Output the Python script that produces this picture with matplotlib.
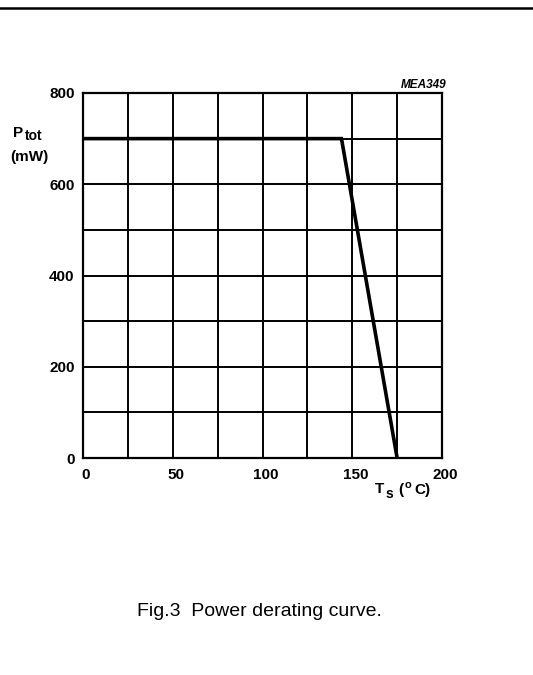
import matplotlib
matplotlib.use("Agg")
import matplotlib.pyplot as plt
import matplotlib.transforms as mtransforms

# derating curve points (Ts in degC, Ptot in mW)
temp = [0, 144, 175]
power = [700, 700, 0]

x_ticks = [0, 50, 100, 150, 200]
y_ticks = [0, 200, 400, 600, 800]
x_grid = [25, 50, 75, 100, 125, 150, 175]
y_grid = [100, 200, 300, 400, 500, 600, 700]

plt.rcParams['font.family'] = ['Liberation Sans', 'DejaVu Sans']

fig = plt.figure(figsize=(5.33, 6.75), dpi=100)
ax = fig.add_axes([83 / 533, 1 - 458 / 675, 359 / 533, 365 / 675])

for g in x_grid:
    ax.axvline(g, color='black', lw=1.4)
for g in y_grid:
    ax.axhline(g, color='black', lw=1.4)

ax.plot(temp, power, color='black', lw=2.6, solid_joinstyle='miter')

ax.set_xlim(0, 200)
ax.set_ylim(0, 800)
ax.set_xticks(x_ticks)
ax.set_yticks(y_ticks)
ax.set_xticklabels([str(t) for t in x_ticks], fontsize=11, fontweight='bold')
ax.set_yticklabels([str(t) for t in y_ticks], fontsize=11, fontweight='bold')
ax.tick_params(axis='x', length=0, pad=7)
ax.tick_params(axis='y', length=0, pad=6)
for s in ax.spines.values():
    s.set_linewidth(1.6)

# x labels sit a little right of their grid lines in the datasheet
shift = mtransforms.ScaledTranslation(3 / 100, 0, fig.dpi_scale_trans)
for lab in ax.get_xticklabels():
    lab.set_transform(lab.get_transform() + shift)


def px(x, y):
    return x / 533, 1 - y / 675


def label(x, y, s, size=11, **kw):
    fig.text(*px(x, y), s, fontsize=size, fontweight='bold', va='baseline', **kw)


# axis titles with full-size-ish subscripts, like the datasheet
label(13, 137, 'P')
label(25, 140, 'tot', size=10)
label(10, 161, '(mW)')
label(375, 493, 'T')
label(386, 498, 's', size=10)
label(398, 494, '(')
label(405, 488, 'o', size=8)
label(414, 494, 'C)')
fig.text(446 / 533, 1 - 85 / 675, 'MEA349', fontsize=8.5, fontweight='bold', style='italic',
         ha='right', va='center')
fig.text(259 / 533, 1 - 611 / 675, 'Fig.3  Power derating curve.', fontsize=14, ha='center', va='center')

# rule at the top of the page
fig.add_artist(plt.Line2D([0, 1], [1 - 8 / 675, 1 - 8 / 675], color='black', lw=1.8))

fig.savefig('out.png', dpi=100)
